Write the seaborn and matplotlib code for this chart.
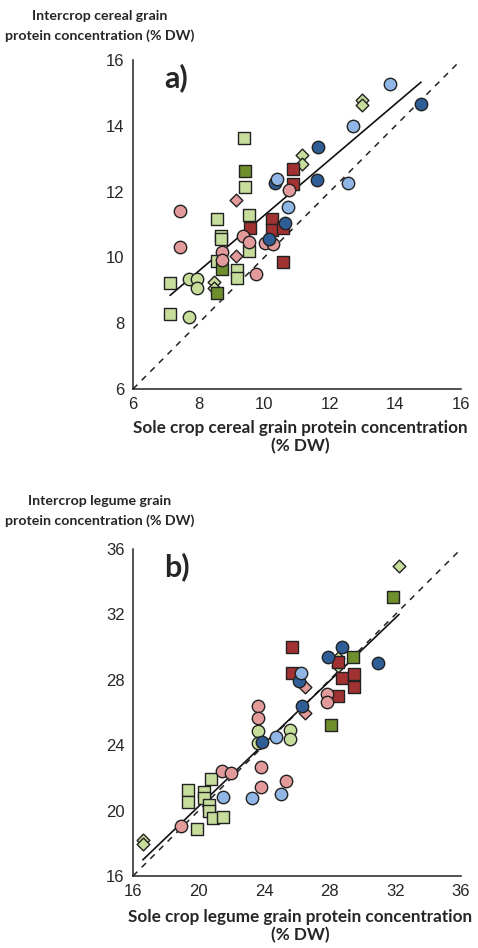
import pandas as pd
import matplotlib.pyplot as plt
import seaborn as sns

# group keys: colour + marker in the original figure
GROUPS = ["lg_circle", "lg_square", "lg_diamond", "dg_square", "dr_square",
          "pk_circle", "pk_diamond", "db_circle", "lb_circle"]

# panel a) cereal grain protein (% DW): sole crop (x), intercrop (y)
cereal_sole = {
    "lg_circle": [7.71, 7.95, 7.95, 7.71],
    "lg_square": [9.38, 9.40, 8.56, 9.54, 8.68, 8.68, 9.54, 8.56, 9.17, 9.17, 7.13, 7.13],
    "lg_diamond": [12.98, 12.98, 11.15, 11.15, 8.47, 8.47],
    "dg_square": [9.40, 8.71, 8.56],
    "dr_square": [10.88, 10.88, 10.24, 10.24, 10.57, 9.57, 10.57],
    "pk_circle": [7.43, 7.43, 10.76, 9.35, 9.54, 10.02, 10.27, 8.71, 8.71, 9.75],
    "pk_diamond": [9.14, 9.14],
    "db_circle": [14.78, 11.63, 10.33, 11.61, 10.63, 10.15],
    "lb_circle": [13.83, 12.70, 10.39, 12.56, 10.73],
}
cereal_inter = {
    "lg_circle": [9.35, 9.35, 9.08, 8.20],
    "lg_square": [13.62, 12.15, 11.18, 11.30, 10.66, 10.57, 10.20, 9.90, 9.63, 9.38, 9.23, 8.29],
    "lg_diamond": [14.78, 14.63, 13.10, 12.83, 9.26, 9.08],
    "dg_square": [12.62, 9.66, 8.93],
    "dr_square": [12.70, 12.22, 11.18, 10.82, 10.88, 10.88, 9.87],
    "pk_circle": [11.40, 10.33, 12.04, 10.66, 10.48, 10.45, 10.42, 10.15, 9.93, 9.50],
    "pk_diamond": [11.73, 10.05],
    "db_circle": [14.66, 13.35, 12.25, 12.34, 11.06, 10.55],
    "lb_circle": [15.27, 13.99, 12.37, 12.27, 11.52],
}

# panel b) legume grain protein (% DW)
legume_sole = {
    "lg_circle": [23.62, 23.62, 25.57, 25.57],
    "lg_square": [19.35, 19.35, 20.76, 20.33, 20.33, 20.63, 20.63, 20.88, 21.49, 19.90],
    "lg_diamond": [32.22, 28.50, 28.50, 16.60, 16.60],
    "dg_square": [31.85, 29.41, 28.07],
    "dr_square": [25.70, 25.70, 28.74, 29.48, 29.48, 28.50, 28.50],
    "pk_circle": [23.62, 23.62, 27.83, 27.83, 23.80, 23.80, 21.43, 21.98, 18.93, 25.30],
    "pk_diamond": [26.50, 26.50],
    "db_circle": [28.74, 27.90, 30.94, 26.12, 26.30, 23.87],
    "lb_circle": [26.24, 24.72, 23.26, 25.00, 21.49],
}
legume_inter = {
    "lg_circle": [24.87, 24.13, 24.95, 24.35],
    "lg_square": [21.26, 20.53, 21.93, 21.14, 20.77, 20.34, 19.98, 19.55, 19.60, 18.87],
    "lg_diamond": [34.96, 29.33, 28.84, 18.20, 17.96],
    "dg_square": [33.06, 29.40, 25.23],
    "dr_square": [30.00, 28.40, 28.10, 28.35, 27.56, 27.00, 29.10],
    "pk_circle": [26.40, 25.66, 27.13, 26.64, 22.67, 21.44, 22.42, 22.30, 19.06, 21.80],
    "pk_diamond": [27.56, 26.00],
    "db_circle": [30.00, 29.40, 29.00, 27.90, 26.40, 24.20],
    "lb_circle": [28.40, 24.50, 20.77, 21.00, 20.83],
}

palette = {
    "lg_circle": "#c6dd9c", "lg_square": "#c6dd9c", "lg_diamond": "#c6dd9c",
    "dg_square": "#6e8f2c", "dr_square": "#a23232",
    "pk_circle": "#e39a9a", "pk_diamond": "#e39a9a",
    "db_circle": "#2f5e97", "lb_circle": "#8fb6e4",
}
markers = {g: {"circle": "o", "square": "s", "diamond": "D"}[g.split("_")[1]] for g in GROUPS}
sizes = {"o": 80, "s": 68, "D": 42}


def to_frame(xs, ys):
    rows = []
    for g in GROUPS:
        for x, y in zip(xs[g], ys[g]):
            rows.append({"sole": x, "inter": y, "group": g})
    return pd.DataFrame(rows)


def draw_panel(ax, df, lim, ticks, letter, ylab, xlab, ylab_y, xlab_y):
    ax.plot(lim, lim, ls=(0, (4, 4)), color="#222222", lw=1.1, zorder=1)
    sns.regplot(data=df, x="sole", y="inter", ax=ax, ci=None, scatter=False,
                line_kws={"color": "#111111", "lw": 1.2, "zorder": 2})
    for g in GROUPS:
        sub = df[df["group"] == g]
        sns.scatterplot(data=sub, x="sole", y="inter", ax=ax, color=palette[g],
                        marker=markers[g], s=sizes[markers[g]], edgecolor="#222222",
                        linewidth=1.0, zorder=3, legend=False)
    ax.set_xlim(lim)
    ax.set_ylim(lim)
    ax.set_xticks(ticks)
    ax.set_yticks(ticks)
    ax.tick_params(direction="out", length=4, width=1, labelsize=12, pad=2)
    for s in ["top", "right"]:
        ax.spines[s].set_visible(False)
    for s in ["left", "bottom"]:
        ax.spines[s].set_color("#222222")
        ax.spines[s].set_linewidth(1.1)
    ax.set_xlabel("")
    ax.set_ylabel("")
    ax.text(0.095, 0.945, letter, transform=ax.transAxes, fontsize=22,
            fontweight="bold", va="center", ha="left", family="Lato")
    fig = ax.figure
    fig.text(100 / 478, 1 - ylab_y / 948, ylab, ha="center", va="center",
             fontsize=10.2, fontweight="bold", family="Lato", linespacing=1.75)
    fig.text(300 / 478, 1 - xlab_y / 948, xlab, ha="center", va="center",
             fontsize=12.3, fontweight="bold", family="Lato", linespacing=1.15)


sns.set_style("white")
plt.rcParams["font.family"] = ["Liberation Sans", "DejaVu Sans"]

fig = plt.figure(figsize=(4.78, 9.48), dpi=100)
ax_a = fig.add_axes([133 / 478, 1 - 389 / 948, 328 / 478, 329 / 948])
ax_b = fig.add_axes([133 / 478, 1 - 876 / 948, 328 / 478, 327 / 948])

draw_panel(ax_a, to_frame(cereal_sole, cereal_inter), [6, 16], [6, 8, 10, 12, 14, 16], "a)",
           "Intercrop cereal grain\nprotein concentration (% DW)",
           "Sole crop cereal grain protein concentration\n(% DW)", 26, 437)
draw_panel(ax_b, to_frame(legume_sole, legume_inter), [16, 36], [16, 20, 24, 28, 32, 36], "b)",
           "Intercrop legume grain\nprotein concentration (% DW)",
           "Sole crop legume grain protein concentration\n(% DW)", 511, 926)

fig.savefig("out.png", dpi=100)
plt.close(fig)
